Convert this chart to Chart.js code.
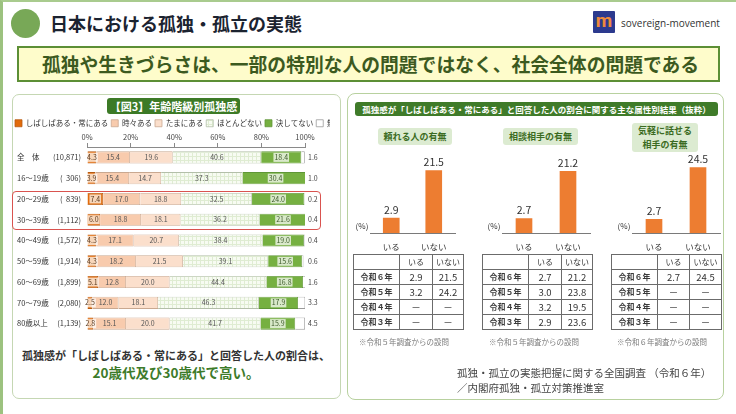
<!DOCTYPE html>
<html lang="ja">
<head>
<meta charset="utf-8">
<script src="https://cdn.jsdelivr.net/npm/chart.js@4.4.1/dist/chart.umd.min.js"></script>
<style>
  html,body{margin:0;padding:0;}
  body{width:736px;height:414px;overflow:hidden;background:#fff;position:relative;font-family:"Noto Sans CJK JP","Noto Sans",sans-serif;color:#333;}
  .abs{position:absolute;}
  .frame{left:0;top:0;width:733px;height:412px;border-left:3px solid #9cc27f;border-top:2px solid #a9cb8e;}
  table.t{position:absolute;border-collapse:collapse;font-size:8.5px;color:#333;table-layout:fixed;}
  table.t td{border:1px solid #6b6b6b;text-align:center;padding:0;height:14px;line-height:14px;}
  table.t td.v{font-size:9.5px;}
  table.t td.h{font-size:8px;}
  table.t td.r{font-size:8px;font-weight:bold;color:#3a3a3a;}
  .note{font-size:7.5px;color:#7a7a7a;white-space:nowrap;}
  .mtitle{background:#dcebd1;color:#3b6b22;font-weight:bold;font-size:9px;text-align:center;border-radius:3px;}
</style>
</head>
<body>
<div class="abs frame"></div>

<!-- header -->
<div class="abs" style="left:11px;top:9px;width:29px;height:29px;border-radius:50%;background:#78a857;"></div>
<div class="abs" style="left:50px;top:11px;height:24px;line-height:24px;font-size:18px;font-weight:bold;color:#1b2330;white-space:nowrap;">日本における孤独・孤立の実態</div>
<div class="abs" style="left:593px;top:11px;width:22px;height:22px;background:#2c3a8e;border-radius:1px;text-align:center;line-height:20px;font-size:19px;font-weight:bold;color:#ee8a3c;font-family:Roboto,sans-serif;">m</div>
<div class="abs" style="left:621px;top:15px;height:16px;line-height:16px;font-size:10px;color:#333;font-family:'Open Sans',sans-serif;white-space:nowrap;">sovereign-movement</div>

<div class="abs" style="left:17px;top:46px;width:699px;height:32px;background:#fefccb;border:2px solid #5c8f35;"></div>
<div class="abs" style="left:42px;top:48px;height:32px;line-height:32px;font-size:18.8px;font-weight:bold;color:#3c5a1f;white-space:nowrap;">孤独や生きづらさは、一部の特別な人の問題ではなく、社会全体の問題である</div>

<!-- left panel -->
<div class="abs" style="left:12px;top:94px;width:327px;height:303px;border:1px solid #c5d7b3;border-radius:7px;"></div>
<div class="abs" style="left:107px;top:98px;width:133px;height:16px;line-height:16px;background:#3c7a26;border-radius:3px;color:#fff;font-size:11px;font-weight:bold;text-align:center;white-space:nowrap;">【図3】年齢階級別孤独感</div>
<div class="abs" style="left:12px;top:108px;width:318px;height:228px;overflow:hidden;">
  <div style="position:absolute;left:0;top:4px;width:360px;height:222px;"><canvas id="ageChart"></canvas></div>
</div>
<div class="abs" style="left:12px;top:191px;width:307px;height:37px;border:1.5px solid #d9534f;border-radius:4px;pointer-events:none;"></div>
<div class="abs" style="left:12px;top:346px;width:328px;height:18px;line-height:18px;text-align:center;font-size:11px;font-weight:bold;color:#333;white-space:nowrap;">孤独感が「しばしばある・常にある」と回答した人の割合は、</div>
<div class="abs" style="left:12px;top:362px;width:328px;height:20px;line-height:20px;text-align:center;font-size:13.5px;font-weight:bold;color:#3d7b2a;white-space:nowrap;">20歳代及び30歳代で高い。</div>

<!-- right panel -->
<div class="abs" style="left:347px;top:93px;width:375px;height:305px;border:1.5px solid #b8d19f;border-radius:8px;"></div>
<div class="abs" style="left:355px;top:102px;width:363px;height:14px;line-height:14px;background:#3f7b29;border-radius:3px;color:#fff;font-size:8.5px;font-weight:bold;text-align:center;white-space:nowrap;">孤独感が「しばしばある・常にある」と回答した人の割合に関する主な属性別結果（抜粋）</div>

<div class="abs mtitle" style="left:378px;top:128px;width:74px;height:17px;line-height:17px;">頼れる人の有無</div>
<div class="abs mtitle" style="left:503px;top:128px;width:75px;height:17px;line-height:17px;">相談相手の有無</div>
<div class="abs mtitle" style="left:632px;top:123px;width:66px;height:29px;line-height:14px;display:flex;flex-direction:column;justify-content:center;">気軽に話せる<br>相手の有無</div>

<div class="abs" style="left:350px;top:140px;width:115px;height:115px;"><canvas id="m1"></canvas></div>
<div class="abs" style="left:482px;top:140px;width:118px;height:115px;"><canvas id="m2"></canvas></div>
<div class="abs" style="left:612px;top:140px;width:118px;height:115px;"><canvas id="m3"></canvas></div>

<table class="t" id="t1" style="left:353px;top:254px;width:110px;"></table>
<table class="t" id="t2" style="left:482px;top:254px;width:110px;"></table>
<table class="t" id="t3" style="left:611px;top:254px;width:110px;"></table>

<div class="abs note" style="left:359px;top:336px;">※令和５年調査からの設問</div>
<div class="abs note" style="left:489px;top:336px;">※令和５年調査からの設問</div>
<div class="abs note" style="left:617px;top:336px;">※令和６年調査からの設問</div>

<div class="abs" style="left:457px;top:365px;font-size:10.5px;color:#444;white-space:nowrap;line-height:15px;">孤独・孤立の実態把握に関する全国調査 （令和６年）</div>
<div class="abs" style="left:457px;top:380px;font-size:10.5px;color:#444;white-space:nowrap;line-height:15px;">／内閣府孤独・孤立対策推進室</div>

<script>
// ===== data: 年齢階級別孤独感 =====
const ageLabels = ['全　体','16～19歳','20～29歳','30～39歳','40～49歳','50～59歳','60～69歳','70～79歳','80歳以上'];
const ageN = ['(10,871)','(  306)','(  839)','(1,112)','(1,572)','(1,914)','(1,899)','(2,080)','(1,139)'];
const seriesNames = ['しばしばある・常にある','時々ある','たまにある','ほとんどない','決してない','無回答'];
const often      = [4.3, 3.9, 7.4, 6.0, 4.3, 4.3, 5.1, 2.5, 2.8];
const sometimes  = [15.4,15.4,17.0,18.8,17.1,18.2,12.8,12.0,15.1];
const occasional = [19.6,14.7,18.8,18.1,20.7,21.5,20.0,18.1,20.0];
const rarely     = [40.6,37.3,32.5,36.2,38.4,39.1,44.4,46.3,41.7];
const never      = [18.4,30.4,24.0,21.6,19.0,15.6,16.8,17.9,15.9];
const noAnswer   = [1.6, 1.0, 0.2, 0.4, 0.4, 0.6, 1.6, 3.3, 4.5];
const pctTicks   = [0,20,40,60,80,100];

// ===== data: 属性別結果 =====
const miniCats = ['いる','いない'];
const tayoreru = [2.9, 21.5];
const soudan   = [2.7, 21.2];
const kigaru   = [2.7, 24.5];
const yearRows = ['令和６年','令和５年','令和４年','令和３年'];
const tayoreruIru  = [2.9, 3.2, null, null];
const tayoreruInai = [21.5, 24.2, null, null];
const soudanIru    = [2.7, 3.0, 3.2, 2.9];
const soudanInai   = [21.2, 23.8, 19.5, 23.6];
const kigaruIru    = [2.7, null, null, null];
const kigaruInai   = [24.5, null, null, null];

const FONT = '"Noto Sans CJK JP","Noto Sans",sans-serif';
Chart.defaults.font.family = FONT;
Chart.defaults.color = '#333';

// ---------- left chart ----------
const ageCanvas = document.getElementById('ageChart');
function gridPattern(target){
  const c = document.createElement('canvas'); c.width = 4; c.height = 4;
  const g = c.getContext('2d');
  g.fillStyle = '#f7fbf2'; g.fillRect(0,0,4,4);
  g.fillStyle = '#dfecd2'; g.fillRect(0,0,4,1); g.fillRect(0,0,1,4);
  return target.getContext('2d').createPattern(c,'repeat');
}
const segColors = ['#e26b0a','#f8cbad','#fbdfcc',gridPattern(ageCanvas),'#76b041','#ffffff'];
const segBorders = ['#b55a12','#c9a890','#c9a890','#b3bfa9','#5f9637','#9a9a9a'];
const seriesData = [often,sometimes,occasional,rarely,never,noAnswer];

const leftLabels = {
  id:'leftLabels',
  afterDatasetsDraw(chart){
    const ctx = chart.ctx, ys = chart.scales.y, area = chart.chartArea;
    ctx.save();
    ctx.textBaseline = 'middle';
    ctx.font = '7.5px ' + FONT;
    ageLabels.forEach((lab,i)=>{
      const y = ys.getPixelForValue(i);
      ctx.fillStyle = '#333';
      ctx.textAlign = 'left'; ctx.fillText(lab, 5, y);
      ctx.textAlign = 'right'; ctx.fillText(ageN[i], 69, y);
    });
    ctx.font = '7px ' + FONT;
    chart.data.datasets.forEach((ds,di)=>{
      const meta = chart.getDatasetMeta(di);
      meta.data.forEach((el,i)=>{
        const v = ds.data[i];
        const t = v.toFixed(1);
        if (di === 5){
          ctx.textAlign = 'left'; ctx.fillStyle = '#444';
          ctx.fillText(t, area.right + 3, el.y);
          return;
        }
        const cx = (el.x + el.base)/2;
        ctx.textAlign = 'center';
        if (di === 0 || di === 4){
          const w = ctx.measureText(t).width + 2;
          ctx.fillStyle = 'rgba(255,255,255,0.72)';
          ctx.fillRect(cx - w/2, el.y - 4.5, w, 9);
          ctx.fillStyle = di === 0 ? '#5a3a20' : '#3d5a2a';
        } else {
          ctx.fillStyle = '#555';
        }
        ctx.fillText(t, cx, el.y);
      });
    });
    ctx.restore();
  }
};

new Chart(ageCanvas, {
  type:'bar',
  data:{
    labels: ageLabels,
    datasets: seriesNames.map((name,i)=>({
      label: name,
      data: seriesData[i],
      backgroundColor: segColors[i],
      borderColor: segBorders[i],
      borderWidth: 0.8,
      barPercentage: 0.6,
      categoryPercentage: 0.97
    }))
  },
  options:{
    indexAxis:'y',
    responsive:true, maintainAspectRatio:false, animation:false,
    layout:{padding:{top:4.5,left:0,right:0,bottom:0}},
    plugins:{
      tooltip:{enabled:false},
      legend:{
        position:'top', align:'start', maxHeight:17.5,
        labels:{boxWidth:7, boxHeight:7, padding:3, font:{size:7.5}, color:'#333'}
      }
    },
    scales:{
      x:{
        position:'top', stacked:true, min:0, max:100,
        afterBuildTicks(s){ s.ticks = pctTicks.map(v=>({value:v})); },
        ticks:{callback:v=>v+'%', font:{size:7.5}, color:'#444', padding:1, maxRotation:0},
        grid:{display:true, drawOnChartArea:false, drawTicks:true, tickLength:4, color:'#8a8a8a'},
        border:{display:true, color:'#8a8a8a'},
        afterFit(s){ s.height = 13; }
      },
      y:{
        stacked:true,
        grid:{display:false}, border:{display:false},
        ticks:{display:false},
        afterFit(s){ s.width = 75; }
      },
      yR:{
        type:'category', position:'right', labels: ageLabels,
        grid:{display:false}, border:{display:false},
        ticks:{display:false},
        afterFit(s){ s.width = 67; }
      }
    }
  },
  plugins:[leftLabels]
});

// ---------- mini charts ----------
const miniMin = -3;
const miniLabels = {
  id:'miniLabels',
  afterDatasetsDraw(chart){
    const ctx = chart.ctx, meta = chart.getDatasetMeta(0), area = chart.chartArea;
    ctx.save();
    ctx.font = '10.5px ' + FONT; ctx.fillStyle = '#333';
    ctx.textAlign = 'center'; ctx.textBaseline = 'bottom';
    meta.data.forEach((el,i)=>{
      ctx.fillText(chart.data.datasets[0].data[i].toFixed(1), el.x, el.y - 3);
    });
    ctx.font = '8px ' + FONT; ctx.textBaseline = 'middle';
    ctx.fillText('(%)', area.left - 8, area.bottom - 7);
    ctx.restore();
  }
};
function miniChart(id, values, yMax){
  new Chart(document.getElementById(id), {
    type:'bar',
    data:{labels: miniCats, datasets:[{data: values, backgroundColor:'#ed7d31', barThickness:16, base: miniMin}]},
    options:{
      responsive:true, maintainAspectRatio:false, animation:false,
      layout:{padding:{left:20, right:10, top:21.6, bottom:0}},
      plugins:{legend:{display:false}, tooltip:{enabled:false}},
      scales:{
        x:{grid:{display:false}, border:{display:true, color:'#7a7a7a', width:1},
           ticks:{font:{size:8.5}, color:'#333', padding:1}, afterFit(s){ s.height = 22; }},
        y:{display:false, min: miniMin, max: yMax}
      }
    },
    plugins:[miniLabels]
  });
}
miniChart('m1', tayoreru, 25);
miniChart('m2', soudan, 25);
miniChart('m3', kigaru, 27);

// ---------- tables ----------
function fillTable(id, iru, inai, cols){
  const fmt = v => v === null ? '－' : v.toFixed(1);
  let h = '<colgroup>' + cols.map(w=>'<col style="width:'+w+'px">').join('') + '</colgroup>';
  h += '<tr><td></td><td class="h">' + miniCats[0] + '</td><td class="h">' + miniCats[1] + '</td></tr>';
  yearRows.forEach((y,i)=>{
    h += '<tr><td class="r">' + y + '</td><td class="v">' + fmt(iru[i]) + '</td><td class="v">' + fmt(inai[i]) + '</td></tr>';
  });
  document.getElementById(id).innerHTML = h;
}
fillTable('t1', tayoreruIru, tayoreruInai, [46,33,31]);
fillTable('t2', soudanIru, soudanInai, [46,33,31]);
fillTable('t3', kigaruIru, kigaruInai, [46,32,32]);
</script>
</body>
</html>
